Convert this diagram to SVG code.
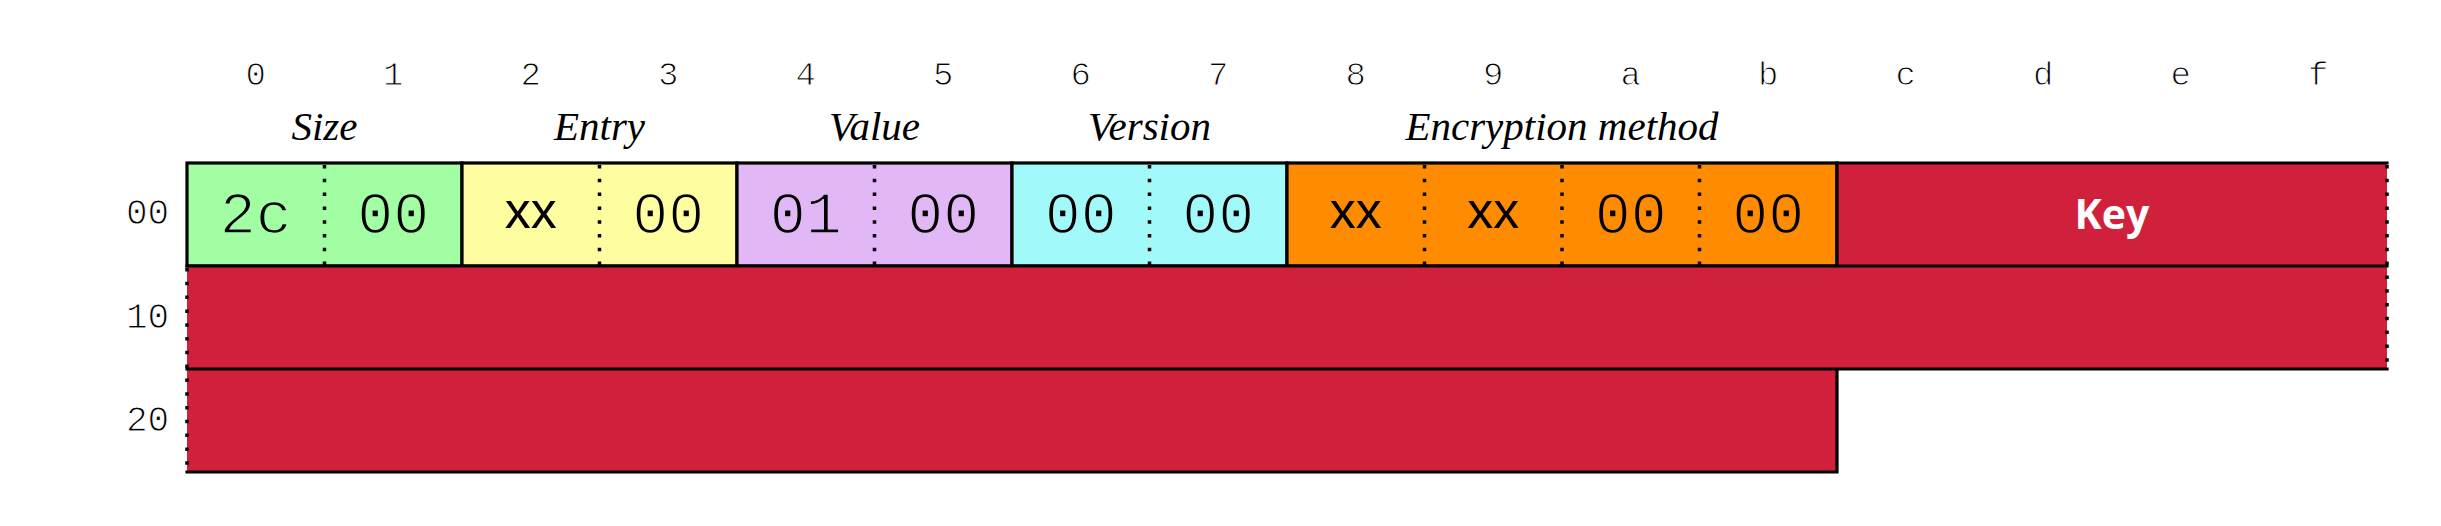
<svg xmlns="http://www.w3.org/2000/svg" width="2441" height="526" viewBox="0 0 2441 526">
<style>
.hdr{font-family:"Liberation Mono",monospace;font-size:34px;fill:#000;text-anchor:middle;stroke:#fff;stroke-width:1}
.row{font-family:"Liberation Mono",monospace;font-size:36px;fill:#000;text-anchor:middle;stroke:#fff;stroke-width:1}
.fld{font-family:"Liberation Serif",serif;font-style:italic;font-size:41px;fill:#000;text-anchor:middle}
.val{font-family:"Liberation Mono",monospace;font-size:60px;fill:#000;text-anchor:middle;stroke-width:1.6}
.xx{font-family:"Liberation Sans",sans-serif;font-size:52px;fill:#000;text-anchor:middle}
.key{font-family:"Open Sans",sans-serif;font-weight:bold;font-size:41px;fill:#fff;text-anchor:middle}
.solid{stroke:#000;stroke-width:3.2;fill:none;stroke-linecap:square}
.dot{stroke:#000;stroke-width:3.5;fill:none;stroke-dasharray:3.5 10.3}
</style>
<rect width="2441" height="526" fill="#fff"/>
<g id="header">
<text class="hdr" x="255.75" y="85">0</text>
<text class="hdr" x="393.25" y="85">1</text>
<text class="hdr" x="530.75" y="85">2</text>
<text class="hdr" x="668.25" y="85">3</text>
<text class="hdr" x="805.75" y="85">4</text>
<text class="hdr" x="943.25" y="85">5</text>
<text class="hdr" x="1080.75" y="85">6</text>
<text class="hdr" x="1218.25" y="85">7</text>
<text class="hdr" x="1355.75" y="85">8</text>
<text class="hdr" x="1493.25" y="85">9</text>
<text class="hdr" x="1630.75" y="85">a</text>
<text class="hdr" x="1768.25" y="85">b</text>
<text class="hdr" x="1905.75" y="85">c</text>
<text class="hdr" x="2043.25" y="85">d</text>
<text class="hdr" x="2180.75" y="85">e</text>
<text class="hdr" x="2318.25" y="85">f</text>
</g>
<g id="row-labels">
<text class="row" x="147.5" y="224">00</text>
<text class="row" x="147.5" y="328">10</text>
<text class="row" x="147.5" y="431">20</text>
</g>
<g id="field-size">
<text class="fld" x="324.5" y="140">Size</text>
<rect x="187" y="163" width="275" height="103" fill="#a2fea2"/>
<line class="dot" x1="324.5" y1="165" x2="324.5" y2="266"/>
<rect class="solid" x="187" y="163" width="275" height="103"/>
<text class="val" stroke="#a2fea2" x="255.75" y="233">2c</text>
<text class="val" stroke="#a2fea2" x="393.25" y="233">00</text>
</g>
<g id="field-entry">
<text class="fld" x="599.5" y="140">Entry</text>
<rect x="462" y="163" width="275" height="103" fill="#fefea0"/>
<line class="dot" x1="599.5" y1="165" x2="599.5" y2="266"/>
<rect class="solid" x="462" y="163" width="275" height="103"/>
<text class="xx" x="530.75" y="228">xx</text>
<text class="val" stroke="#fefea0" x="668.25" y="233">00</text>
</g>
<g id="field-value">
<text class="fld" x="874.5" y="140">Value</text>
<rect x="737" y="163" width="275" height="103" fill="#e2b7f6"/>
<line class="dot" x1="874.5" y1="165" x2="874.5" y2="266"/>
<rect class="solid" x="737" y="163" width="275" height="103"/>
<text class="val" stroke="#e2b7f6" x="805.75" y="233">01</text>
<text class="val" stroke="#e2b7f6" x="943.25" y="233">00</text>
</g>
<g id="field-version">
<text class="fld" x="1149.5" y="140">Version</text>
<rect x="1012" y="163" width="275" height="103" fill="#a2f9f9"/>
<line class="dot" x1="1149.5" y1="165" x2="1149.5" y2="266"/>
<rect class="solid" x="1012" y="163" width="275" height="103"/>
<text class="val" stroke="#a2f9f9" x="1080.75" y="233">00</text>
<text class="val" stroke="#a2f9f9" x="1218.25" y="233">00</text>
</g>
<g id="field-encryption">
<text class="fld" x="1562" y="140">Encryption method</text>
<rect x="1287" y="163" width="550" height="103" fill="#ff8c00"/>
<line class="dot" x1="1424.5" y1="165" x2="1424.5" y2="266"/>
<line class="dot" x1="1562" y1="165" x2="1562" y2="266"/>
<line class="dot" x1="1699.5" y1="165" x2="1699.5" y2="266"/>
<rect class="solid" x="1287" y="163" width="550" height="103"/>
<text class="xx" x="1355.75" y="228">xx</text>
<text class="xx" x="1493.25" y="228">xx</text>
<text class="val" stroke="#ff8c00" x="1630.75" y="233">00</text>
<text class="val" stroke="#ff8c00" x="1768.25" y="233">00</text>
</g>
<g id="field-key">
<rect x="187" y="266" width="2200" height="103" fill="#d1203c"/>
<rect x="187" y="369" width="1650" height="103" fill="#d1203c"/>
<rect x="1837" y="163" width="550" height="103" fill="#d1203c"/>
<path class="solid" d="M1837 163H2387M1837 163V266M187 266H2387M187 369H2387M187 472H1837V369"/>
<line class="dot" x1="2387" y1="165" x2="2387" y2="369"/>
<line class="dot" x1="187" y1="268" x2="187" y2="472"/>
<text class="key" x="2112" y="229">Key</text>
</g>
</svg>
